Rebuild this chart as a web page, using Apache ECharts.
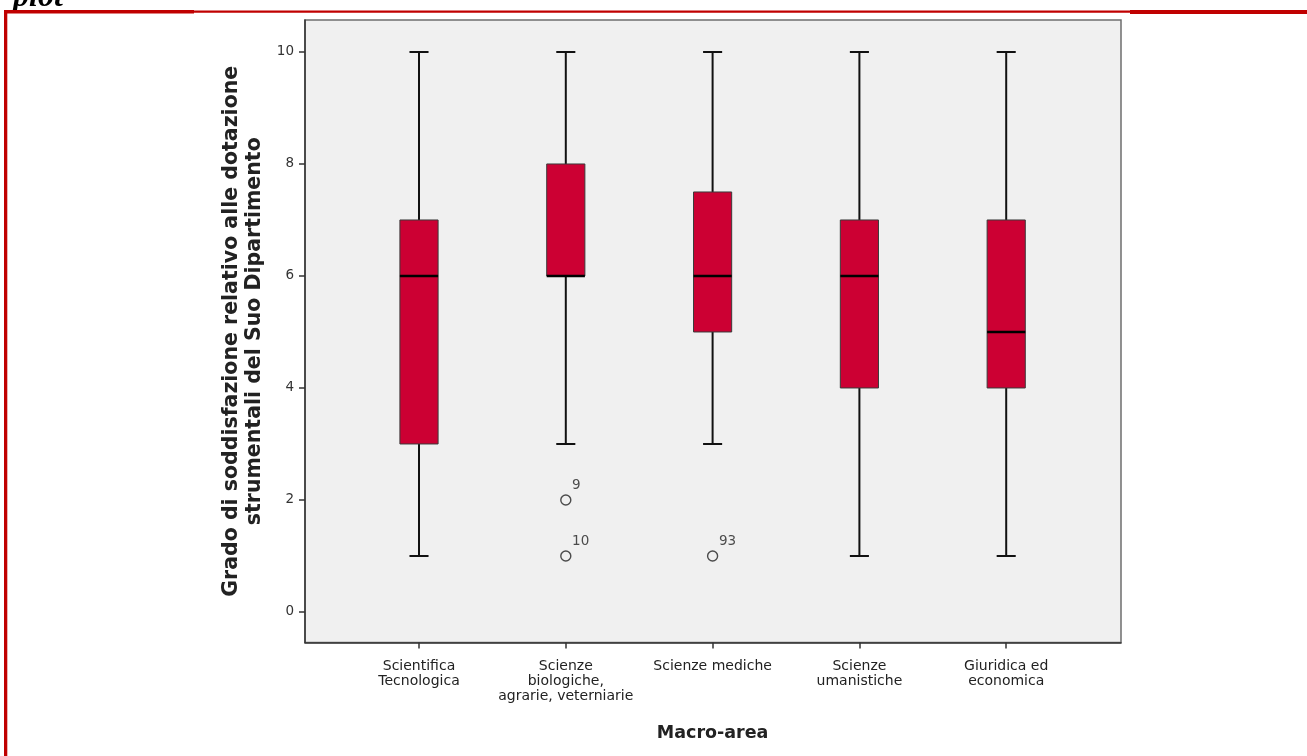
<!DOCTYPE html>
<html>
<head>
<meta charset="utf-8">
<title>Macro-area boxplot</title>
<script src="https://cdn.jsdelivr.net/npm/echarts@6/dist/echarts.min.js"></script>
<style>
  html, body { margin: 0; padding: 0; background: #ffffff; }
  #chart { width: 1307px; height: 756px; }
</style>
</head>
<body>
<div id="chart"></div>
<script>
// Macro-areas on the horizontal axis
const categories = [
  'Scientifica\nTecnologica',
  'Scienze\nbiologiche,\nagrarie, veterniarie',
  'Scienze mediche',
  'Scienze\numanistiche',
  'Giuridica ed\neconomica'
];
// Five-number summary per macro-area
const lowWhisker  = [1, 3, 3, 1, 1];
const lowerQuart  = [3, 6, 5, 4, 4];
const medians     = [6, 6, 6, 6, 5];
const upperQuart  = [7, 8, 7.5, 7, 7];
const highWhisker = [10, 10, 10, 10, 10];
// Outlying cases: macro-area index, score and case number
const outlierArea  = [1, 1, 2];
const outlierValue = [2, 1, 1];
const outlierCase  = ['9', '10', '93'];
// Score axis ticks
const yTicks = [0, 2, 4, 6, 8, 10];

const Y_MIN = -0.545, Y_MAX = 10.571;
const boxData = categories.map((c, i) =>
  [i, lowWhisker[i], lowerQuart[i], medians[i], upperQuart[i], highWhisker[i]]);
const outlierData = outlierArea.map((a, i) => [a, outlierValue[i]]);

const chart = echarts.init(document.getElementById('chart'), null, { renderer: 'canvas' });

// Box, whiskers with caps and median bar for one macro-area
function renderBox(params, api) {
  const x = api.value(0);
  const lo = api.coord([x, api.value(1)]);
  const q1 = api.coord([x, api.value(2)]);
  const md = api.coord([x, api.value(3)]);
  const q3 = api.coord([x, api.value(4)]);
  const hi = api.coord([x, api.value(5)]);
  const band = api.size([1, 0])[0];
  const bw = band * 0.26;
  const cw = bw / 2;
  const cx = lo[0];
  const line = { stroke: '#111', lineWidth: 2 };
  return {
    type: 'group',
    children: [
      { type: 'line', shape: { x1: cx, y1: lo[1], x2: cx, y2: q1[1] }, style: line },
      { type: 'line', shape: { x1: cx, y1: q3[1], x2: cx, y2: hi[1] }, style: line },
      { type: 'line', shape: { x1: cx - cw / 2, y1: lo[1], x2: cx + cw / 2, y2: lo[1] }, style: line },
      { type: 'line', shape: { x1: cx - cw / 2, y1: hi[1], x2: cx + cw / 2, y2: hi[1] }, style: line },
      { type: 'rect', shape: { x: cx - bw / 2, y: q3[1], width: bw, height: q1[1] - q3[1] },
        style: { fill: '#cc0033', stroke: '#3a3a3a', lineWidth: 1 } },
      { type: 'line', shape: { x1: cx - bw / 2, y1: md[1], x2: cx + bw / 2, y2: md[1] },
        style: { stroke: '#000', lineWidth: 2.5 } }
    ]
  };
}

const option = {
  backgroundColor: '#ffffff',
  animation: false,
  textStyle: { fontFamily: 'DejaVu Sans' },
  grid: [
    { left: 305, top: 20, width: 816, height: 622.5, show: true,
      backgroundColor: '#f0f0f0', borderColor: '#6e6e6e', borderWidth: 1.5, containLabel: false },
    { left: 345.6, top: 20, width: 734, height: 622.5, containLabel: false }
  ],
  xAxis: [
    { gridIndex: 0, type: 'value', min: 0, max: 1,
      axisLine: { show: true, onZero: false, lineStyle: { color: '#333', width: 1.5 } },
      axisTick: { show: false }, axisLabel: { show: false }, splitLine: { show: false } },
    { gridIndex: 1, type: 'category', data: categories, boundaryGap: true,
      axisLine: { show: false, onZero: false },
      axisTick: { show: true, alignWithLabel: true, length: 6, lineStyle: { color: '#333', width: 1.5 } },
      axisLabel: { interval: 0, margin: 16, fontSize: 14, lineHeight: 15, color: '#222',
        fontFamily: 'DejaVu Sans' },
      splitLine: { show: false },
      name: 'Macro-area', nameLocation: 'middle', nameGap: 82,
      nameTextStyle: { fontSize: 17.5, fontWeight: 'bold', color: '#222', fontFamily: 'DejaVu Sans' } }
  ],
  yAxis: [
    { gridIndex: 0, type: 'value', min: Y_MIN, max: Y_MAX,
      axisLine: { show: true, onZero: false, lineStyle: { color: '#333', width: 1.5 } },
      axisTick: { show: true, length: 6, customValues: yTicks, lineStyle: { color: '#333', width: 1.5 } },
      axisLabel: { customValues: yTicks, margin: 11, fontSize: 13.5, color: '#333', fontFamily: 'DejaVu Sans' },
      splitLine: { show: false },
      name: 'Grado di soddisfazione relativo alle dotazione\nstrumentali del Suo Dipartimento',
      nameLocation: 'middle', nameRotate: 90, nameGap: 39,
      nameTextStyle: { fontSize: 20.5, fontWeight: 'bold', color: '#222', lineHeight: 23,
        fontFamily: 'DejaVu Sans' } },
    { gridIndex: 1, type: 'value', min: Y_MIN, max: Y_MAX, show: false, splitLine: { show: false } }
  ],
  series: [
    { type: 'custom', xAxisIndex: 1, yAxisIndex: 1, data: boxData, renderItem: renderBox,
      encode: { x: 0, y: [1, 2, 3, 4, 5] } },
    { type: 'scatter', xAxisIndex: 1, yAxisIndex: 1, data: outlierData,
      symbol: 'circle', symbolSize: 10,
      itemStyle: { color: 'rgba(0,0,0,0)', borderColor: '#222', borderWidth: 1.4 },
      label: { show: true, position: [12, -9], align: 'left', verticalAlign: 'middle',
        fontSize: 13.5, color: '#222', fontFamily: 'DejaVu Sans',
        formatter: p => outlierCase[p.dataIndex] } }
  ],
  graphic: [
    { type: 'text', left: 13, top: -18, silent: true,
      style: { text: 'plot', font: 'italic bold 32px "Liberation Serif"', fill: '#000' } },
    { type: 'rect', shape: { x: 4, y: 10, width: 190, height: 3.5 }, style: { fill: '#c00000' }, silent: true },
    { type: 'rect', shape: { x: 193, y: 10.5, width: 938, height: 2.3 }, style: { fill: '#c00000' }, silent: true },
    { type: 'rect', shape: { x: 1130, y: 10, width: 177, height: 4 }, style: { fill: '#c00000' }, silent: true },
    { type: 'rect', shape: { x: 4, y: 10, width: 3.3, height: 746 }, style: { fill: '#c00000' }, silent: true }
  ]
};
chart.setOption(option);
</script>
</body>
</html>
